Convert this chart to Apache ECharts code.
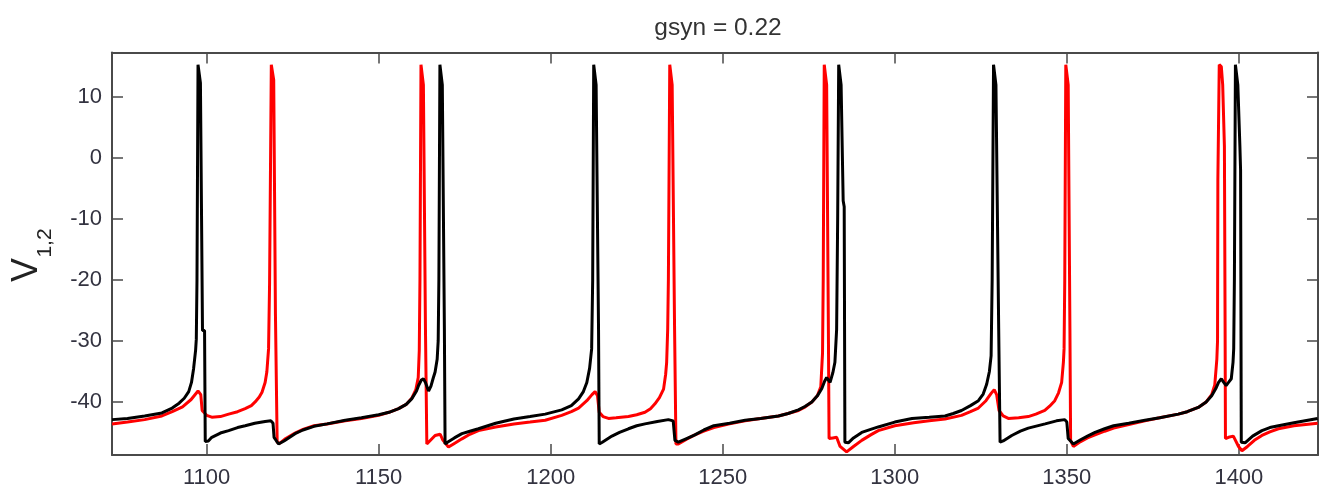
<!DOCTYPE html>
<html>
<head>
<meta charset="utf-8">
<script src="https://cdn.jsdelivr.net/npm/echarts@6/dist/echarts.min.js"></script>
<style>
  html, body { margin: 0; padding: 0; background: #ffffff; }
  #chart { width: 1320px; height: 489px; }
</style>
</head>
<body>
<div id="chart"></div>
<script>
// ---- data ----
const titleText = 'gsyn = 0.22';
const xTicks = [1100, 1150, 1200, 1250, 1300, 1350, 1400];
const yTicks = [-40, -30, -20, -10, 0, 10];
const xRange = [1072.5, 1423];
const yRange = [-48.7, 17.3];

// neuron 1 (black) : [time, voltage]
const blackTrace = [
[1072.5,-42.9],[1077,-42.7],[1082,-42.3],[1087,-41.8],[1090,-41.0],[1092,-40.2],[1093.5,-39.4],[1094.8,-38.3],[1095.6,-36.8],[1096.2,-34.6],[1096.8,-31.5],[1097.0,-29.7],[1097.2,-20],[1097.5,15.3],[1098.0,15.0],[1098.2,12.3],[1098.7,12.0],[1098.8,-28.3],[1099.4,-28.3],[1099.6,-46.5],
[1100.5,-46.4],[1101.5,-45.8],[1104,-45.1],[1106.4,-44.7],[1109,-44.2],[1111.2,-43.9],[1114,-43.5],[1117,-43.2],[1118.7,-43.1],[1119.3,-43.5],[1119.6,-45.8],[1120.9,-46.9],[1122.5,-46.4],[1125.7,-45.2],[1128,-44.6],[1131.2,-44.0],[1135,-43.6],[1140.3,-43.0],[1145,-42.6],[1150,-42.1],[1153,-41.7],[1155.8,-41.1],[1158,-40.4],[1159.6,-39.5],[1161,-38.2],[1161.6,-37.3],[1162.4,-36.4],[1163.0,-36.2],[1163.6,-36.8],[1164.5,-38.2],[1165.2,-37.4],[1165.8,-36.2],[1166.4,-35.1],[1167.0,-33.0],[1167.3,-30.0],[1167.5,-20],[1167.8,15.3],[1168.3,15.0],[1168.5,12.0],[1169.0,11.8],[1169.1,-28],[1169.3,-46.9],
[1170,-46.6],[1172,-45.9],[1174.2,-45.2],[1176.5,-44.8],[1179,-44.4],[1184,-43.5],[1189.3,-42.8],[1194,-42.4],[1198.4,-42.0],[1203.2,-41.3],[1206,-40.6],[1208.1,-39.5],[1209.5,-38.3],[1210.5,-36.8],[1211.3,-34.5],[1211.9,-31.3],[1212.2,-20],[1212.5,15.3],[1213,15],[1213.2,12],[1213.7,11.8],[1213.9,-28],[1214.1,-46.9],
[1215,-46.6],[1217.8,-45.6],[1220,-45.0],[1222.6,-44.4],[1225,-43.9],[1227.4,-43.6],[1231,-43.2],[1234.2,-42.9],[1235.6,-43.1],[1236.1,-46.3],[1237.1,-46.6],[1239.5,-46.0],[1241.9,-45.4],[1244.5,-44.6],[1247.4,-43.9],[1252,-43.5],[1256.5,-43.0],[1261,-42.7],[1266.2,-42.3],[1269,-41.9],[1272,-41.3],[1274,-40.7],[1275.9,-40.0],[1277.5,-39.0],[1278.8,-37.8],[1279.6,-36.6],[1280.2,-36.0],[1281.2,-36.8],[1282.0,-35.2],[1282.6,-33.5],[1283.1,-28.1],[1283.4,-10],[1283.7,15.3],[1284.2,15],[1284.4,12],[1284.9,11.8],[1285.0,-7],[1285.3,-8],[1285.5,-46.6],
[1286.5,-46.7],[1288,-45.9],[1290.4,-45.0],[1293,-44.5],[1295.2,-44.1],[1300,-43.3],[1305,-42.7],[1310,-42.5],[1314.6,-42.3],[1317,-41.9],[1319.4,-41.4],[1322,-40.6],[1324.3,-39.8],[1325.7,-38.7],[1326.7,-37.1],[1327.5,-35],[1328,-32.4],[1328.3,-20],[1328.7,15.3],[1329.2,15],[1329.4,12],[1329.9,11.8],[1330.2,-28],[1330.6,-46.6],
[1331.5,-46.4],[1334,-45.5],[1336.5,-44.8],[1338.8,-44.3],[1343.7,-43.6],[1347,-43.1],[1349.4,-42.9],[1350.0,-43.3],[1350.4,-46.0],[1351.9,-46.9],[1354,-46.2],[1356,-45.6],[1358.2,-45.0],[1361,-44.4],[1363.6,-43.9],[1368,-43.5],[1372.7,-43.0],[1377,-42.6],[1382.4,-42.0],[1385,-41.6],[1388.2,-40.9],[1390.5,-40.0],[1392.1,-39.0],[1393.3,-37.8],[1394.1,-36.8],[1394.9,-36.2],[1395.6,-36.8],[1396.3,-37.3],[1397.0,-36.8],[1397.8,-36.2],[1398.3,-33.5],[1398.5,-31.3],[1398.7,-20],[1399.0,15.3],[1399.5,15],[1399.7,12],[1400.2,11.8],[1400.3,1.9],[1400.5,-2],[1400.7,-46.6],
[1401.8,-46.7],[1404,-45.6],[1406.7,-44.7],[1409,-44.2],[1411.5,-43.9],[1416,-43.4],[1422.9,-42.7]
];

// neuron 2 (red) : [time, voltage]
const redTrace = [
[1072.5,-43.6],[1077,-43.3],[1082,-42.9],[1087,-42.3],[1090,-41.6],[1093,-40.8],[1095.5,-39.6],[1097.5,-38.2],[1098.3,-38.8],[1098.7,-41.4],[1100,-42.2],[1101.5,-42.5],[1104,-42.4],[1106.4,-42.0],[1109,-41.6],[1111.2,-41.1],[1113,-40.6],[1114.1,-40.0],[1115.3,-39.2],[1116.1,-38.4],[1117,-36.8],[1117.5,-35.1],[1118,-31.3],[1118.3,-20.4],[1118.8,15.3],[1119.3,15],[1119.5,12.8],[1119.9,12.5],[1120.0,-25.6],[1120.3,-25.6],[1120.5,-46.6],
[1121.2,-46.8],[1123,-46.0],[1125.7,-45.1],[1128,-44.5],[1131.2,-43.9],[1135,-43.6],[1140.3,-43.1],[1145,-42.7],[1150,-42.2],[1153,-41.7],[1155.8,-41.1],[1158,-40.4],[1159.6,-39.4],[1160.8,-38],[1161.5,-36],[1161.8,-31.6],[1162.0,-20],[1162.3,15.3],[1162.8,15],[1163.0,12],[1163.5,11.8],[1163.6,-28],[1163.8,-28],[1164.0,-46.9],
[1165.2,-46.2],[1166.4,-45.5],[1167.9,-45.3],[1168.6,-46.2],[1170.3,-47.4],[1172,-46.8],[1174.2,-46.05],[1176.5,-45.3],[1179,-44.7],[1184,-44.1],[1189.3,-43.6],[1194,-43.3],[1198.4,-43.0],[1203.2,-42.2],[1206,-41.6],[1208.1,-41.0],[1210.5,-39.8],[1212.0,-38.8],[1212.9,-38.3],[1213.6,-39.0],[1214.1,-41.7],[1215.2,-42.4],[1216.8,-42.7],[1219,-42.6],[1222.6,-42.4],[1225,-42.1],[1227.4,-41.7],[1229,-41.1],[1230.3,-40.3],[1231.6,-39.3],[1232.8,-37.9],[1233.4,-35.5],[1233.7,-33.5],[1234.0,-28.1],[1234.2,-20],[1234.6,15.3],[1235.1,15],[1235.3,12],[1235.8,11.8],[1236.0,-28],[1236.2,-28],[1236.4,-46.9],
[1237.1,-46.9],[1239.5,-46.1],[1241.9,-45.4],[1244.5,-44.8],[1247.4,-44.2],[1252,-43.6],[1256.5,-43.1],[1261,-42.7],[1266.2,-42.3],[1269,-41.9],[1272,-41.4],[1274,-40.8],[1275.9,-40.0],[1277.5,-39.0],[1278.5,-37.5],[1279.0,-32],[1279.2,-20],[1279.5,15.3],[1280.0,15],[1280.2,12],[1280.6,11.8],[1280.7,-28],[1280.9,-46.0],
[1282,-45.9],[1283.1,-45.8],[1284.1,-47.3],[1286,-48.2],[1288,-47.3],[1290.4,-46.3],[1293,-45.4],[1295.2,-44.7],[1300,-43.9],[1305.5,-43.4],[1310,-43.1],[1314.6,-42.8],[1319.4,-42.2],[1322,-41.6],[1324.3,-41.0],[1326.5,-39.8],[1328.0,-38.6],[1328.9,-38.0],[1329.6,-38.8],[1330.3,-41.4],[1331.5,-42.3],[1333,-42.7],[1336,-42.6],[1338.8,-42.4],[1341,-42.0],[1343.6,-41.4],[1345,-40.7],[1346.5,-39.8],[1347.6,-38.5],[1348.5,-36.8],[1349.0,-33.5],[1349.2,-31.3],[1349.4,-20],[1349.7,15.3],[1350.2,15],[1350.4,12],[1350.8,11.8],[1350.9,-28],[1351.1,-46.3],
[1351.9,-47.3],[1354,-46.5],[1356,-45.9],[1358.2,-45.4],[1361,-44.8],[1363.6,-44.3],[1368,-43.7],[1372.7,-43.1],[1377,-42.6],[1382.4,-42.0],[1385,-41.6],[1388.2,-40.9],[1390.5,-40.0],[1392.1,-38.8],[1393.0,-37.2],[1393.6,-33],[1393.8,-30],[1393.9,-3.5],[1394.3,15.3],[1394.9,15],[1395.3,12],[1395.8,1.9],[1396.0,-28],[1396.1,-46.0],
[1397,-45.8],[1398.4,-45.6],[1399.9,-47.3],[1400.9,-48.0],[1402.5,-47.3],[1404.5,-46.3],[1406.7,-45.5],[1409,-44.9],[1411.5,-44.4],[1416,-43.9],[1422.9,-43.5]
];

// ---- chart ----
const FONT = '"Liberation Sans", Arial, Helvetica, sans-serif';
const AX_COLOR = '#4a4a4a';
const LABEL_COLOR = '#333340';

function xAxisCfg(pos, showLabels) {
  return {
    type: 'value', position: pos, min: xRange[0], max: xRange[1],
    axisLine: { show: true, onZero: false, lineStyle: { color: AX_COLOR, width: 2 } },
    axisTick: { show: true, inside: true, length: 11, customValues: xTicks, lineStyle: { color: AX_COLOR, width: 1.5 } },
    axisLabel: { show: showLabels, customValues: xTicks, margin: 12, color: LABEL_COLOR, fontSize: 22, fontFamily: FONT,
                 formatter: v => String(v) },
    splitLine: { show: false }
  };
}
function yAxisCfg(pos, showLabels) {
  return {
    type: 'value', position: pos, min: yRange[0], max: yRange[1],
    axisLine: { show: true, onZero: false, lineStyle: { color: AX_COLOR, width: 2 } },
    axisTick: { show: true, inside: true, length: 11, customValues: yTicks, lineStyle: { color: AX_COLOR, width: 1.5 } },
    axisLabel: { show: showLabels, customValues: yTicks, margin: 10, color: LABEL_COLOR, fontSize: 22, fontFamily: FONT,
                 formatter: v => String(v) },
    splitLine: { show: false }
  };
}

const chart = echarts.init(document.getElementById('chart'), null, { renderer: 'canvas' });
chart.setOption({
  animation: false,
  backgroundColor: '#ffffff',
  title: {
    text: titleText, left: 713, top: 11, textAlign: 'center',
    textStyle: { fontFamily: FONT, fontSize: 24.5, fontWeight: 'normal', color: '#333333' }
  },
  grid: { left: 112, right: 2, top: 52.5, bottom: 33, containLabel: false },
  xAxis: [xAxisCfg('bottom', true), xAxisCfg('top', false)],
  yAxis: [yAxisCfg('left', true), yAxisCfg('right', false)],
  graphic: [
    { type: 'text', x: 27, y: 270, rotation: Math.PI / 2,
      style: { text: 'V', font: '36px ' + FONT, fill: '#222222', align: 'center', verticalAlign: 'middle' } },
    { type: 'text', x: 45, y: 243, rotation: Math.PI / 2,
      style: { text: '1,2', font: '21px ' + FONT, fill: '#222222', align: 'center', verticalAlign: 'middle' } }
  ],
  series: [
    { type: 'line', name: 'V2', data: redTrace, showSymbol: false, symbol: 'none',
      lineStyle: { color: '#ff0000', width: 3 }, xAxisIndex: 0, yAxisIndex: 0, clip: true, z: 2 },
    { type: 'line', name: 'V1', data: blackTrace, showSymbol: false, symbol: 'none',
      lineStyle: { color: '#000000', width: 3 }, xAxisIndex: 0, yAxisIndex: 0, clip: true, z: 3 }
  ]
});
</script>
</body>
</html>
